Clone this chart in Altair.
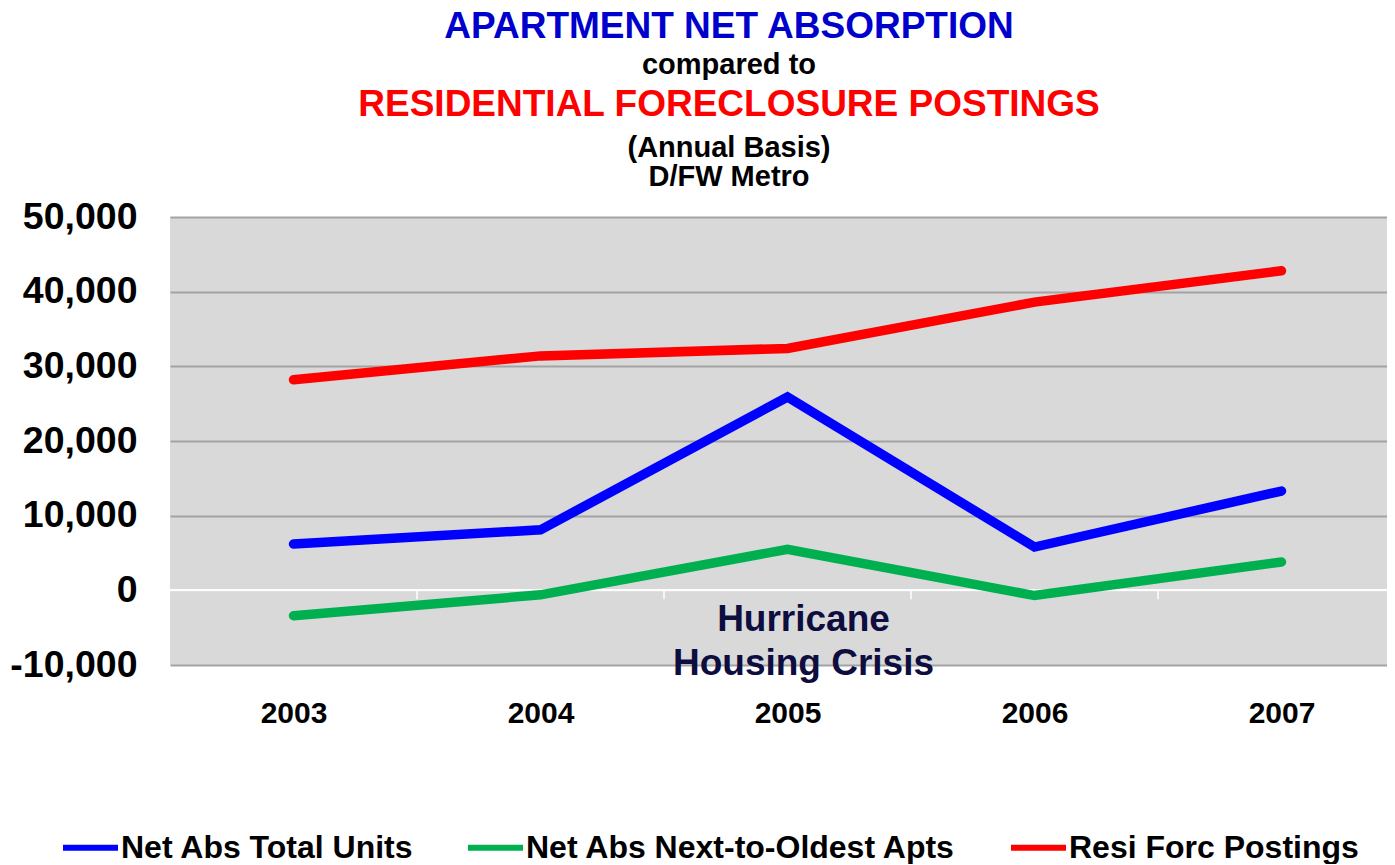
import altair as alt
import pandas as pd

# ---- data ----
years = [2003, 2004, 2005, 2006, 2007]
net_abs_total = [6200, 8100, 25900, 5800, 13300]
net_abs_next_oldest = [-3400, -600, 5500, -700, 3800]
resi_forc_postings = [28200, 31400, 32400, 38600, 42800]
series_names = ["Net Abs Total Units", "Net Abs Next-to-Oldest Apts", "Resi Forc Postings"]
series_colors = ["#0000FF", "#00B050", "#FF0000"]
y_ticks = [-10000, 0, 10000, 20000, 30000, 40000, 50000]
annotation_year = [2005]
annotation_value = [-5500]
annotation_text = ["Hurricane\nHousing Crisis"]

rows = []
for name, vals in zip(series_names, [net_abs_total, net_abs_next_oldest, resi_forc_postings]):
    for yr, v in zip(years, vals):
        rows.append({"Year": yr, "Value": v, "Series": name})
df = pd.DataFrame(rows)

FONT = "Liberation Sans"
W, H = 1217, 448
BAND = 247
x_domain = [years[0] - 0.5, years[0] - 0.5 + W / BAND]
x_scale = alt.Scale(domain=x_domain, nice=False, zero=False)
y_scale = alt.Scale(domain=[y_ticks[0], y_ticks[-1]], nice=False, zero=False)

x_axis = alt.Axis(values=years, format="d", title=None, grid=False, domain=False,
                  ticks=False, tickSize=0, labelFontSize=30, labelFont=FONT,
                  labelFontWeight="bold", labelColor="black", labelPadding=33)
y_axis = alt.Axis(values=y_ticks, title=None, grid=True, gridColor="#A3A3A3",
                  gridWidth=1.8, domain=False, ticks=False, tickSize=0, labelFontSize=37.5,
                  labelFont=FONT, labelFontWeight="bold", labelColor="black", labelPadding=33,
                  labelExpr="datum.value < 0 ? '-' + format(-datum.value, ',') : format(datum.value, ',')")

zero_rule = alt.Chart(pd.DataFrame({"v": [0]})).mark_rule(color="white", strokeWidth=2.5).encode(
    y=alt.Y("v:Q", scale=y_scale, axis=y_axis)
)

bounds = pd.DataFrame({"b": [y + 0.5 for y in years[:-1]]})
bound_ticks = alt.Chart(bounds).mark_rule(color="white", strokeWidth=1.5).encode(
    x=alt.X("b:Q", scale=x_scale, axis=x_axis),
    y=alt.datum(0),
    y2=alt.datum(-1200),
)

lines = alt.Chart(df).mark_line(strokeWidth=9.5, strokeCap="round").encode(
    x=alt.X("Year:Q", scale=x_scale, axis=x_axis),
    y=alt.Y("Value:Q", scale=y_scale, axis=y_axis),
    color=alt.Color(
        "Series:N",
        scale=alt.Scale(domain=series_names, range=series_colors),
        sort=series_names,
        legend=alt.Legend(orient="none", legendX=-110, legendY=600, direction="horizontal",
                          title=None, symbolType="stroke", symbolSize=3025,
                          symbolStrokeWidth=6, labelFontSize=32, labelFont=FONT,
                          labelFontWeight="bold", labelColor="black", labelLimit=900,
                          labelOffset=0, columnPadding=42, padding=0),
    ),
    order=alt.Order("Year:Q"),
)

annot = alt.Chart(pd.DataFrame({"Year": annotation_year, "Value": annotation_value,
                                "t": annotation_text})).mark_text(
    font=FONT, fontWeight="bold", fontSize=37, color="#0D0D40", align="center",
    baseline="alphabetic", lineBreak="\n", lineHeight=44, dx=16
).encode(x=alt.X("Year:Q", scale=x_scale, axis=x_axis),
         y=alt.Y("Value:Q", scale=y_scale, axis=y_axis), text="t:N")


def title_line(txt, size, color, ypix):
    return alt.Chart(pd.DataFrame({"t": [txt]})).mark_text(
        font=FONT, fontWeight="bold", fontSize=size, color=color, align="center",
        baseline="alphabetic"
    ).encode(text="t:N", x=alt.value(559), y=alt.value(ypix))


titles = [
    title_line("APARTMENT NET ABSORPTION", 37, "#0000CC", -179),
    title_line("compared to", 29, "black", -143),
    title_line("RESIDENTIAL FORECLOSURE POSTINGS", 37, "#FF0000", -101),
    title_line("(Annual Basis)", 29, "black", -60),
    title_line("D/FW Metro", 29, "black", -31),
]

chart = alt.layer(zero_rule, bound_ticks, lines, annot, *titles).properties(
    width=W, height=H,
    autosize=alt.AutoSizeParams(type="none"),
    padding={"left": 162, "top": 209, "right": 0, "bottom": 199},
).configure_view(fill="#D9D9D9", strokeWidth=0)

chart.save("out.html", embed_options={"renderer": "svg", "actions": False})
